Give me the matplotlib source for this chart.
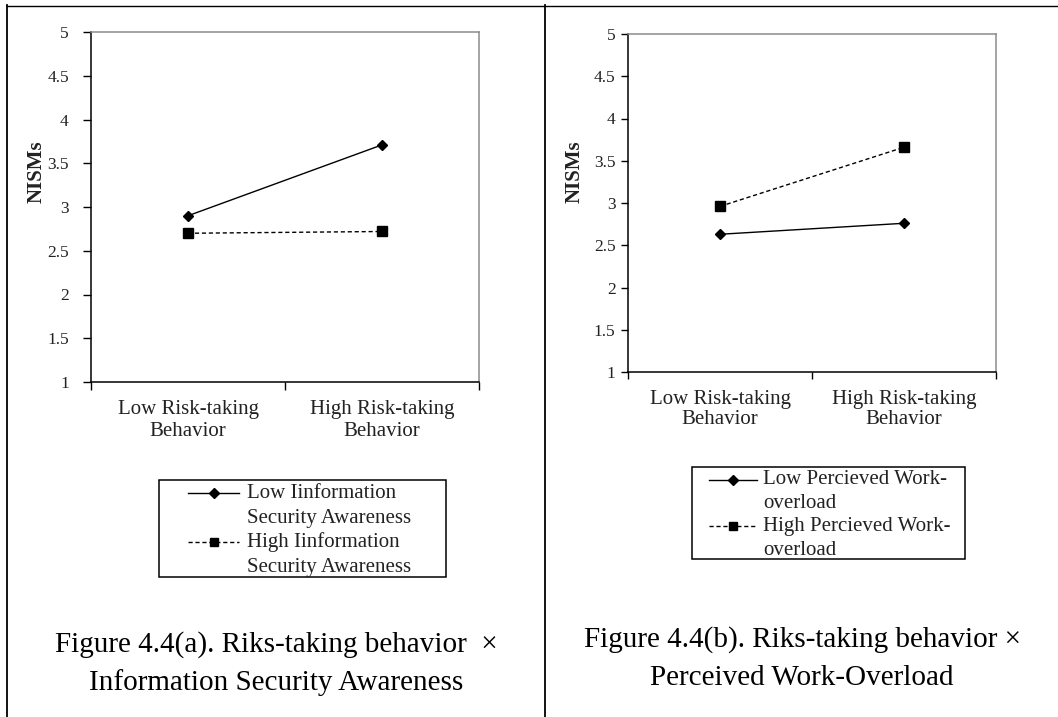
import matplotlib
matplotlib.use('Agg')
import matplotlib.pyplot as plt
from matplotlib.lines import Line2D
from matplotlib.patches import Rectangle

plt.rcParams['font.family'] = ['Liberation Serif', 'DejaVu Serif']

W, H = 1058, 717

# data
categories = ['Low Risk-taking\nBehavior', 'High Risk-taking\nBehavior']
low_isa = [2.90, 3.71]
high_isa = [2.70, 2.72]
low_pwo = [2.63, 2.76]
high_pwo = [2.96, 3.66]
yticks = [1, 1.5, 2, 2.5, 3, 3.5, 4, 4.5, 5]
ytick_labels = ['1', '1.5', '2', '2.5', '3', '3.5', '4', '4.5', '5']
y_label = 'NISMs'
legend_a = [['Low Iinformation', 'Security Awareness'],
            ['High Iinformation', 'Security Awareness']]
legend_b = [['Low Percieved Work-', 'overload'],
            ['High Percieved Work-', 'overload']]
caption_a = ['Figure 4.4(a). Riks-taking behavior  \u00d7', 'Information Security Awareness']
caption_b = ['Figure 4.4(b). Riks-taking behavior \u00d7', 'Perceived Work-Overload']

TXT = '#222222'


def fx(px):
    return px / W


def fy(py):
    return 1 - py / H


fig = plt.figure(figsize=(W / 100, H / 100), dpi=100)


def draw_panel(left, top, right, bottom, low, high, ypad, ticklen, cat_spacing):
    ax = fig.add_axes([fx(left), fy(bottom), fx(right) - fx(left), fy(top) - fy(bottom)])
    x = [0.5, 1.5]
    ax.plot(x, low, color='black', lw=1.0, marker='D', ms=5.5)
    ax.plot(x, high, color='black', lw=1.0, ls=(0, (3, 2)), marker='s', ms=6.5)
    ax.set_xlim(0, 2)
    ax.set_ylim(1, 5)
    ax.set_xticks([0, 1, 2])
    ax.set_xticklabels([])
    ax.set_xticks(x, minor=True)
    ax.set_xticklabels(categories, minor=True, fontsize=15, color=TXT,
                       linespacing=cat_spacing)
    ax.tick_params(axis='x', which='minor', length=0, pad=13)
    ax.tick_params(axis='x', which='major', length=ticklen, width=1.0, direction='out')
    ax.set_yticks(yticks)
    ax.set_yticklabels(ytick_labels, fontsize=12.5, color=TXT)
    ax.tick_params(axis='y', length=ticklen, width=1.0, pad=ypad, direction='out')
    for s in ['left', 'bottom']:
        ax.spines[s].set_color('black')
        ax.spines[s].set_linewidth(1.1)
    for s in ['top', 'right']:
        ax.spines[s].set_color('#8c8c8c')
        ax.spines[s].set_linewidth(1.1)
    return ax


def draw_legend(box, hx0, hx1, tx, handle_ys, baselines, labels):
    x0, y0, x1, y1 = box
    fig.patches.append(Rectangle((fx(x0), fy(y1)), fx(x1) - fx(x0), fy(y0) - fy(y1),
                                 transform=fig.transFigure, fill=False,
                                 lw=1.1, ec='black'))
    hm = (hx0 + hx1) / 2
    styles = [dict(ls='-', marker='D', ms=5), dict(ls=(0, (3, 2)), marker='s', ms=6)]
    for hy, st in zip(handle_ys, styles):
        fig.add_artist(Line2D([fx(hx0), fx(hm), fx(hx1)], [fy(hy)] * 3,
                              transform=fig.transFigure, color='black', lw=1.0,
                              markevery=[1], **st))
    lines = [l for pair in labels for l in pair]
    for b, t in zip(baselines, lines):
        fig.text(fx(tx), fy(b), t, fontsize=15, color=TXT, ha='left', va='baseline')


def draw_caption(cx, baselines, lines):
    for b, t in zip(baselines, lines):
        fig.text(fx(cx), fy(b), t, fontsize=21, color='black', ha='center', va='baseline')


# panel (a)
draw_panel(91, 32, 479, 382, low_isa, high_isa, ypad=10, ticklen=6, cat_spacing=1.2)
fig.text(fx(37), fy(172), y_label, rotation=90, fontsize=15, fontweight='bold',
         color=TXT, ha='center', va='center')
draw_legend((159, 480, 446, 577), 188, 239, 247, [493, 542], [498, 523, 547, 572], legend_a)
draw_caption(276, [652, 690], caption_a)

# panel (b)
draw_panel(628, 34, 996, 372, low_pwo, high_pwo, ypad=4, ticklen=5, cat_spacing=1.05)
fig.text(fx(575), fy(172), y_label, rotation=90, fontsize=15, fontweight='bold',
         color=TXT, ha='center', va='center')
draw_legend((692, 467, 965, 559), 709, 757, 763, [480, 526], [484, 508, 531, 555], legend_b)
draw_caption(802, [647, 685], caption_b)

# table borders
fig.add_artist(Line2D([fx(7), fx(1058)], [fy(5.5), fy(5.5)], transform=fig.transFigure,
                      color='black', lw=1.0))
fig.add_artist(Line2D([fx(7), fx(7)], [fy(5), fy(717)], transform=fig.transFigure,
                      color='black', lw=1.3))
fig.add_artist(Line2D([fx(545), fx(545)], [fy(5), fy(717)], transform=fig.transFigure,
                      color='black', lw=1.3))

fig.savefig('out.png', dpi=100, facecolor='white')
